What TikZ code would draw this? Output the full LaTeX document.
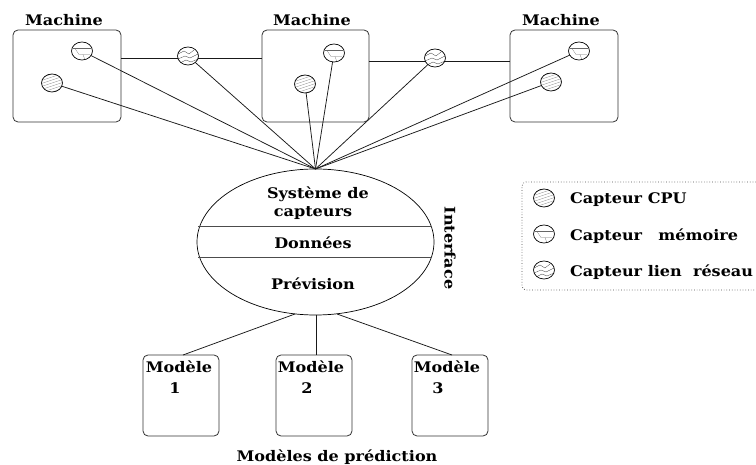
\documentclass[tikz,border=0pt]{standalone}
\usepackage{fontspec}
\setmainfont[FakeStretch=1.1]{DejaVu Serif}
\usetikzlibrary{shapes.geometric}
\tikzset{
  lbl/.style={font=\bfseries\fontsize{14.6}{16}\selectfont,inner sep=0pt,outer sep=0pt,text=black},
  wire/.style={line width=0.75pt,black!90},
  hbox/.style={draw=black!80,line width=0.8pt,rounded corners=5pt,inner sep=0pt,outer sep=0pt,minimum width=#1},
  sensor/.style={ellipse,draw=black,line width=0.7pt,fill=white,minimum width=21pt,minimum height=18pt,inner sep=0pt,outer sep=0pt},
  hatchline/.style={line width=0.25pt,black!55},
  cpusensor/.style={sensor,path picture={
    \foreach \d in {-12,-9,-6,-3,0,3,6,9,12}
      \draw[hatchline] ([shift={(-12,\d+4)}]path picture bounding box.center) -- ([shift={(12,\d-4)}]path picture bounding box.center);}},
  memsensor/.style={sensor,path picture={
    \draw[hatchline,black!60] ([shift={(-9,-2.5)}]path picture bounding box.center) -- ([shift={(9,-2.5)}]path picture bounding box.center);
    \draw[hatchline] ([shift={(-7,-2.5)}]path picture bounding box.center) -- ([shift={(-3,3.5)}]path picture bounding box.center) -- ([shift={(8,3.5)}]path picture bounding box.center);
    \draw[hatchline] ([shift={(1,3.5)}]path picture bounding box.center) -- ([shift={(3,9)}]path picture bounding box.center);}},
  linksensor/.style={sensor,path picture={
    \draw[hatchline,black!75,line width=0.3pt] ([shift={(-10,-2)}]path picture bounding box.center) -- ([shift={(-4,-5)}]path picture bounding box.center) -- ([shift={(1,-2)}]path picture bounding box.center) -- ([shift={(6,-6)}]path picture bounding box.center);
    \draw[hatchline,black!75,line width=0.3pt] ([shift={(-10,3)}]path picture bounding box.center) -- ([shift={(-3,0)}]path picture bounding box.center) -- ([shift={(2,2)}]path picture bounding box.center) -- ([shift={(10,-2)}]path picture bounding box.center);
    \draw[hatchline,black!75,line width=0.3pt] ([shift={(-8,7)}]path picture bounding box.center) -- ([shift={(-2,4)}]path picture bounding box.center) -- ([shift={(3,6)}]path picture bounding box.center) -- ([shift={(10,3)}]path picture bounding box.center);}},
}
\begin{document}
\begin{tikzpicture}[x=1pt,y=-1pt]
\useasboundingbox (0,0) rectangle (756,465);
% machines
\node[hbox=108pt,minimum height=92pt] (box1) at (67,76) {};
\node[hbox=107pt,minimum height=92pt] (box2) at (315.5,76) {};
\node[hbox=108pt,minimum height=92pt] (box3) at (564,76) {};
\node[lbl] (mach1) at (64,20) {Machine};
\node[lbl] (mach2) at (312,20) {Machine};
\node[lbl] (mach3) at (561,20) {Machine};
% interface ellipse
\node[ellipse,draw=black,line width=0.7pt,minimum width=237pt,minimum height=146pt,inner sep=0pt,outer sep=0pt] (iface) at (315.5,242) {};
\coordinate (d1a) at (198,227); \coordinate (d1b) at (432,227);
\coordinate (d2a) at (198,258); \coordinate (d2b) at (432,258);
\draw[black!70,line width=1pt] (d1a) -- (d1b);
\draw[black!70,line width=1pt] (d2a) -- (d2b);
\node[lbl] (t1) at (318,194) {Système de};
\node[lbl] (t2) at (313,213) {capteurs};
\node[lbl] (t3) at (313,243) {Données};
\node[lbl] (t4) at (313,284) {Prévision};
\node[lbl,rotate=-90] (t5) at (450,248) {Interface};
% links between machines
\coordinate (l1a) at (121,58); \coordinate (l1b) at (262,58);
\coordinate (l2a) at (369,61); \coordinate (l2b) at (510,61);
\draw[wire] (l1a) -- (l1b);
\draw[wire] (l2a) -- (l2b);
% sensors
\node[memsensor] (mem1) at (82,51) {};
\node[cpusensor] (cpu1) at (52,83) {};
\node[memsensor] (mem2) at (334,53) {};
\node[cpusensor] (cpu2) at (305,84) {};
\node[memsensor] (mem3) at (579,51) {};
\node[cpusensor] (cpu3) at (551,82) {};
\node[linksensor] (link1) at (188,56) {};
\node[linksensor] (link2) at (435,58) {};
\foreach \s in {mem1,cpu1,mem2,cpu2,mem3,cpu3,link1,link2}
  \draw[wire] (\s) -- (iface.north);
% models
\node[hbox=76pt,minimum height=81pt] (mod1) at (181,395.5) {};
\node[hbox=76pt,minimum height=81pt] (mod2) at (314,395.5) {};
\node[hbox=76pt,minimum height=81pt] (mod3) at (450,395.5) {};
\node[lbl] (m1a) at (179,367) {Modèle};
\node[lbl] (m1b) at (175,388) {1};
\node[lbl] (m2a) at (311,367) {Modèle};
\node[lbl] (m2b) at (307,388) {2};
\node[lbl] (m3a) at (447,367) {Modèle};
\node[lbl] (m3b) at (438,388) {3};
\coordinate (e1) at (295,314); \coordinate (p1) at (183,355);
\coordinate (e2) at (316,315); \coordinate (p2) at (316,355);
\coordinate (e3) at (337,314); \coordinate (p3) at (452,355);
\draw[wire] (e1) -- (p1);
\draw[wire] (e2) -- (p2);
\draw[wire] (e3) -- (p3);
\node[lbl] (mp) at (337,457) {Modèles de prédiction};
% legend
\draw[black!70,line width=0.7pt,dotted,rounded corners=4pt] (756,182) -- (522,182) -- (522,290) -- (756,290);
\node[cpusensor] (lg1) at (544,198) {};
\node[memsensor] (lg2) at (544,234) {};
\node[linksensor] (lg3) at (544,270) {};
\node[lbl,anchor=west] (lt1) at (570,200) {Capteur CPU};
\node[lbl,anchor=west] (lt2) at (570,236) {Capteur\ \ \hspace{5pt}mémoire};
\node[lbl,anchor=west] (lt3) at (570,272) {Capteur lien\ \ réseau};
\end{tikzpicture}
\end{document}
